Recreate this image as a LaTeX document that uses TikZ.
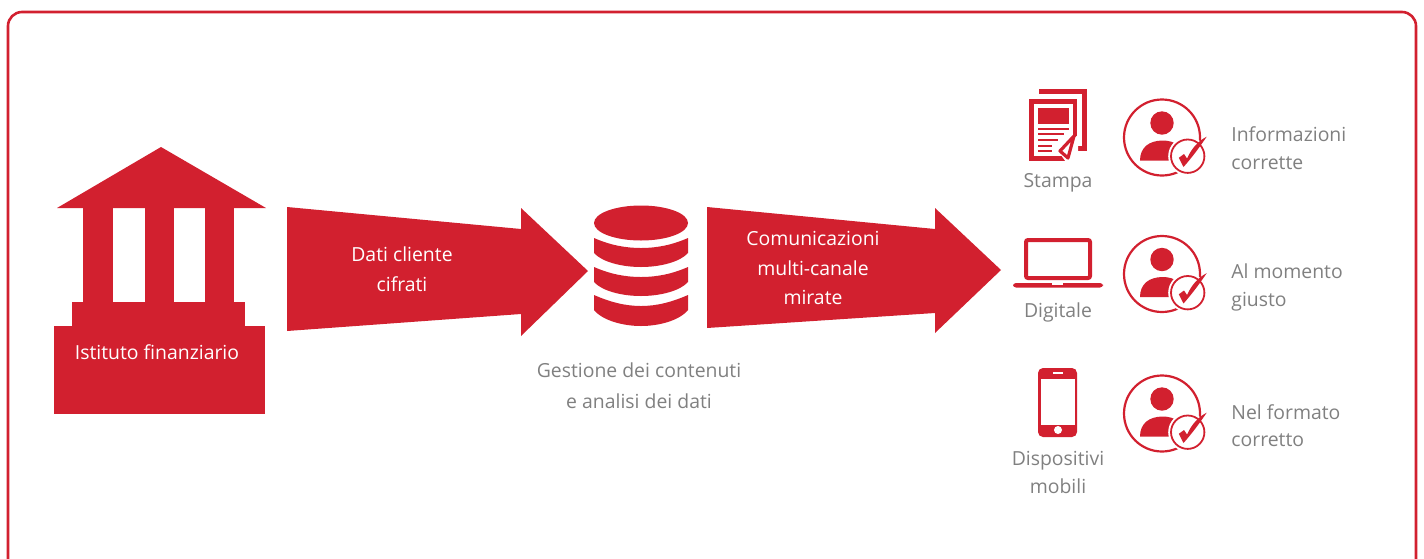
\documentclass[tikz,border=0pt]{standalone}
\usepackage{fontspec}
\setmainfont{Open Sans}
\usepackage{tikz}
\definecolor{bankred}{HTML}{D2202F}
\definecolor{labelgray}{HTML}{808080}
\tikzstyle{redfill} = [fill=bankred, draw=none]
\tikzstyle{whitefill} = [fill=white, draw=none]
\tikzstyle{redline} = [draw=bankred, line cap=round]
\tikzstyle{label} = [text=labelgray, align=center, inner sep=0pt, font=\fontsize{9.7}{13.7}\selectfont]
\tikzstyle{sidelabel} = [text=labelgray, align=left, inner sep=0pt, font=\fontsize{9.7}{13.7}\selectfont]
\tikzstyle{whitelabel} = [text=white, align=center, inner sep=0pt, font=\fontsize{9.7}{15}\selectfont]
\tikzset{
  usericon/.pic={
    \draw [redline, line width=1.1pt] (0,0) circle [radius=38];
    \fill [bankred] (0,-14.5) circle [radius=11.7];
    \path [redfill] (-22,23) .. controls (-22,10) and (-13,3) .. (1,3) .. controls (13,3) and (22,10) .. (24,20) -- (24,23) -- cycle;
    \path [whitefill] (25.7,18.7) circle [radius=19.5];
    \draw [redline, line width=0.9pt] (25.7,18.7) circle [radius=16.7];
    \path [redfill] (16.8,20.3) -- (22,16.5) -- (25,21) .. controls (30,10) and (37,3) .. (44.7,-0.8) .. controls (38,9) and (30,20) .. (21.5,29.5) -- cycle;
  }
}
\begin{document}
\begin{tikzpicture}[x=0.5pt, y=-0.5pt, node distance=65pt]
        \useasboundingbox (0,0) rectangle (1424,558);

        % Frame
        \draw [draw=bankred, line width=1.3pt, rounded corners=7pt] (8,570) -- (8,12) -- (1416,12) -- (1416,570);

        % Bank
        \path [redfill] (161,147) -- (266,208) -- (57,208) -- cycle;
        \path [redfill] (83,208) rectangle (113,302);
        \path [redfill] (145,208) rectangle (174,302);
        \path [redfill] (205,208) rectangle (234,302);
        \path [redfill] (72,302) rectangle (245,326);
        \path [redfill] (54,326) rectangle (265,414);

        % Block arrows
        \path [redfill] (287,207) -- (521,229) -- (521,208) -- (588,271) -- (521,336) -- (521,314) -- (287,331) -- cycle;
        \path [redfill] (707,207) -- (935,229) -- (935,208) -- (1001,270) -- (935,333) -- (935,313) -- (707,328) -- cycle;

        % Database
        \path [redfill] (641,223) ellipse [x radius=47, y radius=17.5];
        \path [redfill] (594,238) .. controls (610,245) and (625,248) .. (641,248) .. controls (657,248) and (672,245) .. (688,238) -- (688,253) .. controls (680,262) and (660,267) .. (641,267) .. controls (622,267) and (602,262) .. (594,253) -- cycle;
        \path [redfill] (594,267) .. controls (610,274) and (625,277) .. (641,277) .. controls (657,277) and (672,274) .. (688,267) -- (688,282) .. controls (680,291) and (660,296) .. (641,296) .. controls (622,296) and (602,291) .. (594,282) -- cycle;
        \path [redfill] (594,295) .. controls (610,302) and (625,306) .. (641,306) .. controls (657,306) and (672,302) .. (688,295) -- (688,310) .. controls (680,320) and (660,326) .. (641,326) .. controls (622,326) and (602,320) .. (594,310) -- cycle;

        % Print icon
        \draw [draw=bankred, line width=2.5pt] (1039,91.5) -- (1084.5,91.5) -- (1084.5,148.5) -- (1074,148.5);
        \path [redfill] (1029,99) rectangle (1077,161);
        \path [whitefill] (1034,104) rectangle (1073,156);
        \path [redfill] (1038,108) rectangle (1069,124);
        \foreach \ly/\lx in {129/1069, 134/1064, 140/1058, 146/1052, 151/1052}
            \draw [draw=bankred, line width=0.9pt] (1038,\ly) -- (\lx,\ly);
        \path [whitefill] (1078,135) -- (1078,162) -- (1066,162) -- (1058,151) -- cycle;
        \draw [draw=bankred, line width=1.6pt, line join=round] (1060,151) -- (1074,136) -- (1068,158) -- cycle;

        % Laptop icon
        \draw [draw=bankred, line width=2pt, rounded corners=1pt] (1026,240) rectangle (1090,278);
        \path [redfill, rounded corners=1.5pt] (1013,283) -- (1103,283) -- (1103,287.5) -- (1013,287.5) -- cycle;
        \path [whitefill] (1052,283) rectangle (1063,284.5);

        % Phone icon
        \path [redfill, rounded corners=2.5pt] (1038,368) rectangle (1077,437);
        \path [whitefill] (1041,379) rectangle (1075,425);
        \path [whitefill] (1053,372.4) rectangle (1063,373.8);
        \path [whitefill] (1058,430) circle [radius=4];

        % User icons
        \pic (userone) at (1162,137.5) {usericon};
        \pic (usertwo) at (1162,274) {usericon};
        \pic (userthree) at (1162,413.5) {usericon};

        % Nodes
        \node (istituto) [whitelabel] at (157,352) {Istituto finanziario};
        \node (dati) [whitelabel] at (402,269) {Dati cliente\\cifrati};
        \node (comunicazioni) [whitelabel, font=\fontsize{9.7}{14.7}\selectfont] at (813,268) {Comunicazioni\\multi-canale\\mirate};
        \node (gestione) [label, font=\fontsize{9.7}{15.5}\selectfont] at (639,385.5) {Gestione dei contenuti\\e analisi dei dati};
        \node (stampa) [label] at (1058,182.5) {Stampa};
        \node (digitale) [label, below of=stampa] {Digitale};
        \node (dispositivi) [label, below of=digitale, yshift=-15pt] {Dispositivi\\mobili};
        \node (corrette) [sidelabel, anchor=west] at (1231,148) {Informazioni\\corrette};
        \node (giusto) [sidelabel, anchor=west] at (1231,287.5) {Al momento\\giusto};
        \node (formato) [sidelabel, anchor=west] at (1231,425.5) {Nel formato\\corretto};
    \end{tikzpicture}
\end{document}
